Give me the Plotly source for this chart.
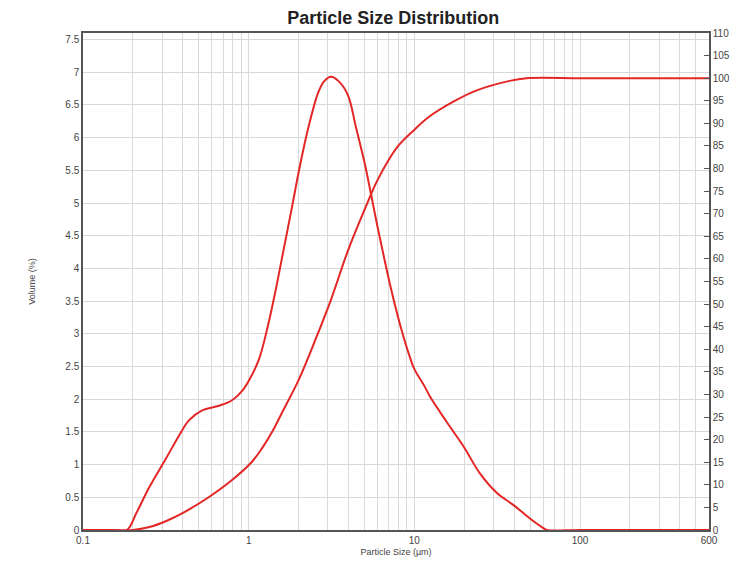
import plotly.graph_objects as go

# Particle size (µm) and volume-frequency (%) of the distribution
freq_size = [0.1, 0.15, 0.184, 0.21, 0.252, 0.318, 0.381, 0.437, 0.524, 0.661, 0.79, 0.908,
             1.0, 1.15, 1.3, 1.45, 1.6, 1.81, 2.05, 2.29, 2.62, 2.85, 3.14, 3.5, 3.97, 4.44,
             5.02, 5.46, 6.0, 6.61, 7.18, 8.24, 9.46, 10.0, 11.5, 12.5, 15.8, 19.9, 24.8,
             31.4, 39.7, 49.6, 60.0, 63.0, 100, 200, 400, 600]
freq_vol = [0, 0, 0, 0.26, 0.66, 1.1, 1.45, 1.68, 1.83, 1.9, 1.98, 2.12,
            2.28, 2.6, 3.1, 3.65, 4.2, 4.89, 5.6, 6.15, 6.68, 6.86, 6.93, 6.86, 6.65, 6.16,
            5.6, 5.15, 4.63, 4.13, 3.72, 3.12, 2.62, 2.46, 2.2, 2.03, 1.64, 1.27, 0.87,
            0.57, 0.38, 0.18, 0.03, 0, 0, 0, 0, 0]

# Cumulative volume (%) undersize
cum_size = [0.1, 0.15, 0.2, 0.252, 0.318, 0.42, 0.576, 0.79, 1.04, 1.2, 1.4, 1.58, 1.99,
            2.52, 3.14, 3.97, 5.02, 6.0, 7.9, 10.0, 12.0, 17.4, 23.8, 37.6, 47.5, 100,
            200, 400, 600]
cum_vol = [0, 0, 0, 0.66, 2.0, 4.2, 7.3, 11.0, 15.0, 18.0, 22.0, 25.8, 33.0,
           42.0, 51.0, 61.8, 71.0, 77.5, 84.8, 88.6, 91.2, 94.9, 97.3, 99.4, 100, 100,
           100, 100, 100]

# Axis ticks
x_grid = [0.2, 0.3, 0.4, 0.5, 0.6, 0.7, 0.8, 0.9, 1, 2, 3, 4, 5, 6, 7, 8, 9, 10,
          20, 30, 40, 50, 60, 70, 80, 90, 100, 200, 300, 400, 500]
x_labels = [0.1, 1, 10, 100, 600]
y_left_ticks = [i * 0.5 for i in range(16)]
y_right_ticks = list(range(0, 111, 5))

red = "#e32626"
grid = "#d9d9d9"
axis_col = "#555555"
narrow = "Liberation Sans Narrow, Arial Narrow, Liberation Sans"
tick_font = dict(family=narrow, size=10, color="#444")

fig = go.Figure()
fig.add_trace(go.Scatter(x=freq_size, y=freq_vol, mode="lines",
                         line=dict(color=red, width=2, shape="spline", smoothing=1.0),
                         showlegend=False))
fig.add_trace(go.Scatter(x=cum_size, y=cum_vol, mode="lines", yaxis="y2",
                         line=dict(color=red, width=2, shape="spline", smoothing=1.0),
                         showlegend=False))

fig.update_layout(
    width=742, height=568,
    margin=dict(l=83, r=31, t=33, b=38),
    paper_bgcolor="white", plot_bgcolor="white",
    title=dict(text="<b>Particle Size Distribution</b>", x=0.53, xanchor="center",
               y=0.968, yanchor="middle",
               font=dict(family=narrow, size=18, color="#222")),
    xaxis=dict(type="log", range=[-1, 2.7782],
               tickvals=x_labels, ticktext=[str(v) for v in x_labels],
               showgrid=False, showline=True, mirror=True, linecolor=axis_col, linewidth=1.5,
               ticks="", tickfont=tick_font, zeroline=False,
               minor=dict(tickvals=x_grid, showgrid=True, gridcolor=grid, gridwidth=1, ticks=""),
               title=dict(text="Particle Size (µm)", standoff=4,
                          font=dict(family=narrow, size=9, color="#444"))),
    yaxis=dict(range=[0, 7.6], tickvals=y_left_ticks,
               ticktext=[f"{v:g}" for v in y_left_ticks],
               showgrid=True, gridcolor=grid, gridwidth=1,
               showline=True, linecolor=axis_col, linewidth=1.5, ticks="",
               zeroline=False, tickfont=tick_font,
               title=dict(text="Volume (%)", standoff=28,
                          font=dict(family=narrow, size=9, color="#444"))),
    yaxis2=dict(range=[0, 110], overlaying="y", side="right", tickvals=y_right_ticks,
                showgrid=False, showline=True, linecolor=axis_col, linewidth=1.5,
                ticks="inside", ticklen=5, tickcolor=axis_col, zeroline=False,
                tickfont=tick_font),
)

fig.write_html("out.html")
